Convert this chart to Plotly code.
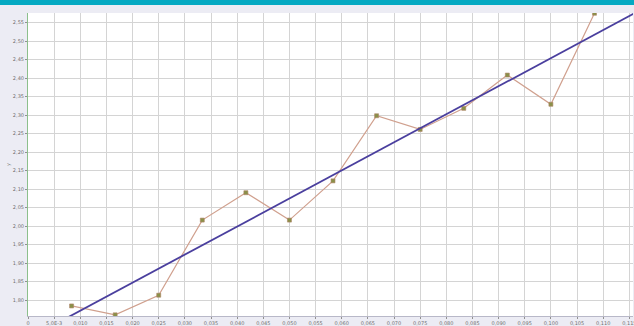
import numpy as np
import plotly.graph_objects as go

# Observations: x in steps of 1/120, measured y
x_vals = [1/120, 2/120, 3/120, 4/120, 5/120, 6/120, 7/120,
          8/120, 9/120, 10/120, 11/120, 12/120, 13/120]
y_vals = [1.784, 1.760, 1.813, 2.016, 2.090, 2.016, 2.122,
          2.298, 2.261, 2.318, 2.408, 2.329, 2.575]

x_ticks = [0.005 * i for i in range(24)]
x_tick_text = ["0", "5,0E-3"] + [f"{v:.3f}".replace(".", ",") for v in x_ticks[2:]]
y_ticks = [round(1.80 + 0.05 * i, 2) for i in range(16)]
y_tick_text = [f"{v:.2f}".replace(".", ",") for v in y_ticks]

x_range = [0, 0.1157]
y_range = [1.7568, 2.5757]

# Least-squares trend line through the observations
slope, intercept = np.polyfit(np.array(x_vals), np.array(y_vals), 1)
trend_x = np.array([0.0, 0.12])
trend_y = slope * trend_x + intercept

fig = go.Figure()
fig.add_trace(go.Scatter(
    x=x_vals, y=y_vals, mode="lines+markers",
    line=dict(color="#d0a08e", width=1.2),
    marker=dict(symbol="square", size=4, color="#8a9048",
                line=dict(color="#b08468", width=0.6)),
    showlegend=False,
))
fig.add_trace(go.Scatter(
    x=trend_x, y=trend_y, mode="lines",
    line=dict(color="#4a3f9e", width=1.8),
    showlegend=False,
))

# Title bar strip across the top of the window
fig.add_shape(type="rect", xref="paper", yref="paper",
              x0=-0.05, x1=1.01, y0=1.0264, y1=1.05,
              fillcolor="#05a9c2", line=dict(width=0), layer="above")

tick_font = dict(family="DejaVu Sans", size=5, color="#707070")
fig.update_xaxes(
    range=x_range, tickmode="array", tickvals=x_ticks, ticktext=x_tick_text,
    showgrid=True, gridcolor="#d4d4d4", gridwidth=1,
    zeroline=False, showline=True, linecolor="#b8b8c8", linewidth=1,
    ticks="outside", ticklen=2, tickcolor="#909090", tickfont=tick_font,
    ticklabeloverflow="allow", automargin=False,
)
fig.update_yaxes(
    range=y_range, tickmode="array", tickvals=y_ticks, ticktext=y_tick_text,
    showgrid=True, gridcolor="#d4d4d4", gridwidth=1,
    zeroline=False, showline=True, linecolor="#8cbf8c", linewidth=1,
    ticks="outside", ticklen=2, tickcolor="#909090", tickfont=tick_font,
    automargin=False,
    title=dict(text="y", font=dict(family="DejaVu Sans", size=5, color="#707070"),
               standoff=2),
)
fig.update_layout(
    width=634, height=326,
    margin=dict(l=28, r=1, t=13, b=10),
    paper_bgcolor="#ececf4", plot_bgcolor="#ffffff",
    separators=",.",
)
fig.write_html("out.html")
